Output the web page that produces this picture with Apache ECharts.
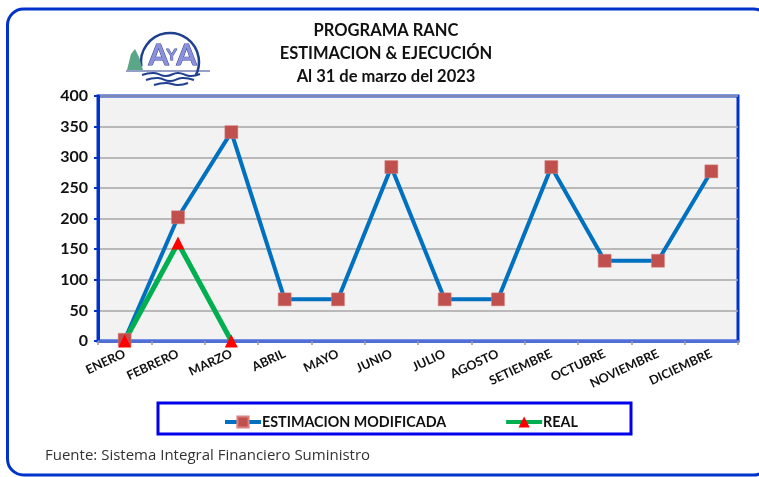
<!DOCTYPE html>
<html>
<head>
<meta charset="utf-8">
<script src="https://cdn.jsdelivr.net/npm/echarts@6/dist/echarts.min.js"></script>
<style>html,body{margin:0;padding:0;background:#fff}#c{width:759px;height:477px}</style>
</head>
<body>
<div id="c"></div>
<script>
const months = ['ENERO','FEBRERO','MARZO','ABRIL','MAYO','JUNIO','JULIO','AGOSTO','SETIEMBRE','OCTUBRE','NOVIEMBRE','DICIEMBRE'];
const estimacion = [2, 202, 341, 68, 68, 284, 68, 68, 284, 131, 131, 277];
const real = [0, 160, 0];
const titleLines = ['PROGRAMA RANC', 'ESTIMACION & EJECUCIÓN', 'Al 31 de marzo del 2023'];
const sourceText = 'Fuente: Sistema Integral Financiero Suministro';
const yTicks = { min: 0, max: 400, interval: 50 };

const FONT = 'Lato, "Open Sans", sans-serif';
const chart = echarts.init(document.getElementById('c'), null, {renderer: 'canvas'});
chart.setOption({
  animation: false,
  backgroundColor: '#ffffff',
  title: {
    text: titleLines.join('\n'),
    left: 381, top: 14, textAlign: 'center',
    textStyle: {fontFamily: FONT, fontWeight: 'bold', fontSize: 16.5, lineHeight: 23, color: '#111'}
  },
  grid: {
    left: 98, top: 96, right: 21, bottom: 136,
    show: true, backgroundColor: '#f2f2f2', borderColor: '#0033cc', borderWidth: 3
  },
  legend: {
    left: 218, top: 410, itemGap: 58, itemWidth: 36, itemHeight: 14,
    lineStyle: {width: 4},
    textStyle: {fontFamily: FONT, fontWeight: 'bold', fontSize: 14.3, color: '#111', padding: [0,0,0,-4]},
    data: ['ESTIMACION MODIFICADA', 'REAL']
  },
  xAxis: {
    type: 'category', data: months, boundaryGap: true,
    axisLine: {lineStyle: {color: '#4f6fd6', width: 3}},
    axisTick: {show: true, length: 4, lineStyle: {color: '#999', width: 1.5}},
    axisLabel: {rotate: 25, margin: 12, interval: 0, fontFamily: FONT, fontWeight: 'bold', fontSize: 12.5, color: '#111'}
  },
  yAxis: {
    type: 'value', min: yTicks.min, max: yTicks.max, interval: yTicks.interval,
    axisLine: {show: true, lineStyle: {color: '#0033cc', width: 3}},
    axisTick: {show: true, length: 4, lineStyle: {color: '#0033cc', width: 2}},
    axisLabel: {margin: 10, fontFamily: FONT, fontWeight: 'bold', fontSize: 16, color: '#111'},
    splitLine: {lineStyle: {color: '#a6a6a6', width: 1.5}}
  },
  series: [
    {
      name: 'ESTIMACION MODIFICADA', type: 'line', data: estimacion,
      symbol: 'rect', symbolSize: 13,
      lineStyle: {color: '#0070c0', width: 4},
      itemStyle: {color: '#c0504d', borderColor: '#d9827f', borderWidth: 0.5}
    },
    {
      name: 'REAL', type: 'line', data: real,
      symbol: 'triangle', symbolSize: 13, z: 3,
      lineStyle: {color: '#00b050', width: 5},
      itemStyle: {color: '#ff0000'}
    }
  ],
  graphic: [
    {type: 'rect', shape: {x: 7.5, y: 9, width: 762, height: 466, r: 16}, style: {fill: 'none', stroke: '#0033cc', lineWidth: 3}, z: 100},
    {type: 'rect', shape: {x: 158, y: 403, width: 473, height: 31}, style: {fill: 'none', stroke: '#0000ee', lineWidth: 3}, z: 100},
    {type: 'text', left: 45, top: 448, style: {text: sourceText, fontFamily: '"Open Sans", sans-serif', fontSize: 15, fill: '#333'}},
    // logo
    {type: 'arc', shape: {cx: 170, cy: 62, r: 29, startAngle: Math.PI * 0.95, endAngle: Math.PI * 2.15}, style: {fill: 'none', stroke: '#1f3f8f', lineWidth: 2.5}},
    {type: 'polygon', shape: {points: [[127,70],[131,54],[135,49],[139,57],[143,70]]}, style: {fill: '#5aa687'}},
    {type: 'text', left: 148, top: 41, style: {text: 'A', fontFamily: FONT, fontWeight: 'bold', fontSize: 29, fill: '#8c90dc', stroke: '#2b3f8f', lineWidth: 1}},
    {type: 'text', left: 166, top: 46, style: {text: 'Y', fontFamily: FONT, fontWeight: 'bold', fontSize: 16, fill: '#8c90dc', stroke: '#2b3f8f', lineWidth: 0.8}},
    {type: 'text', left: 176, top: 41, style: {text: 'A', fontFamily: FONT, fontWeight: 'bold', fontSize: 29, fill: '#8c90dc', stroke: '#2b3f8f', lineWidth: 1}},
    {type: 'line', shape: {x1: 126, y1: 71, x2: 210, y2: 71}, style: {stroke: '#2b3f8f', lineWidth: 1}},
    {type: 'polyline', shape: {points: [[142,75],[154,73],[166,76],[178,73],[190,76],[200,74]], smooth: 0.5}, style: {fill: 'none', stroke: '#1f3f8f', lineWidth: 2}},
    {type: 'polyline', shape: {points: [[146,80],[158,78],[170,81],[182,78],[194,80]], smooth: 0.5}, style: {fill: 'none', stroke: '#1f3f8f', lineWidth: 2}},
    {type: 'polyline', shape: {points: [[154,85],[166,83],[178,85],[188,83]], smooth: 0.5}, style: {fill: 'none', stroke: '#1f3f8f', lineWidth: 2}}
  ]
});
</script>
</body>
</html>
